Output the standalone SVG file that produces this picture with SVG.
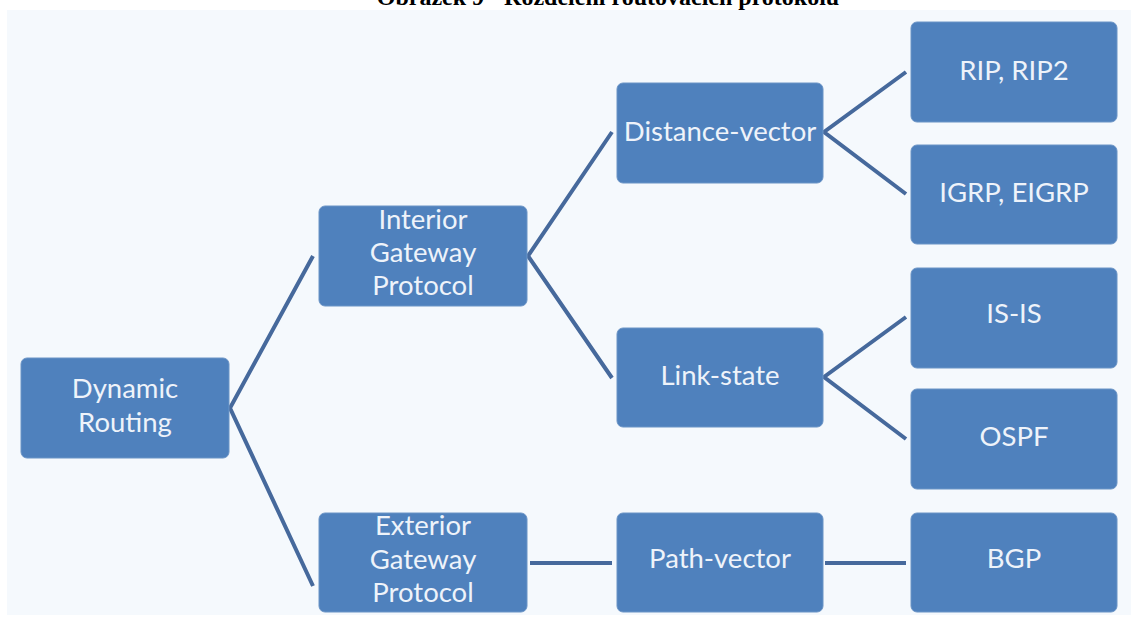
<svg xmlns="http://www.w3.org/2000/svg" width="1131" height="617" viewBox="0 0 1131 617">
<style>
.box{fill:#4f81bd;stroke:#6b94c6;stroke-width:1}
.t{font-family:Lato,"Open Sans",sans-serif;font-size:27.5px;fill:#eef3fa;text-anchor:middle}
.c{stroke:#46699c;stroke-width:4;fill:none;stroke-linejoin:miter}
.title{font-family:"Liberation Serif",serif;font-weight:bold;font-size:24px;fill:#000;text-anchor:middle}
</style>
<rect x="0" y="0" width="1131" height="617" fill="#ffffff"/>
<rect x="7" y="10" width="1124" height="605" fill="#f5f9fd"/>
<text class="title" x="608" y="5">Obrázek 9 - Rozdělení routovacích protokolů</text>
<g id="connectors">
<polyline class="c" points="313,256 230,408 313,586"/>
<polyline class="c" points="612,132 528,256 612,378"/>
<polyline class="c" points="906,72 824,132 906,194"/>
<polyline class="c" points="906,317 824,377 906,439"/>
<line class="c" x1="530" y1="563" x2="612" y2="563"/>
<line class="c" x1="825" y1="563" x2="906" y2="563"/>
</g>
<g id="dynamic-routing"><rect class="box" x="21" y="358" width="208" height="100" rx="6"/><text class="t" x="125" y="398">Dynamic</text><text class="t" x="125" y="432">Routing</text></g>
<g id="igp"><rect class="box" x="319" y="206" width="208" height="100" rx="6"/><text class="t" x="423" y="229">Interior</text><text class="t" x="423" y="262">Gateway</text><text class="t" x="423" y="295">Protocol</text></g>
<g id="egp"><rect class="box" x="319" y="513" width="208" height="99" rx="6"/><text class="t" x="423" y="535">Exterior</text><text class="t" x="423" y="569">Gateway</text><text class="t" x="423" y="602">Protocol</text></g>
<g id="distance-vector"><rect class="box" x="617" y="83" width="206" height="100" rx="6"/><text class="t" x="720" y="141">Distance-vector</text></g>
<g id="link-state"><rect class="box" x="617" y="328" width="206" height="99" rx="6"/><text class="t" x="720" y="385">Link-state</text></g>
<g id="path-vector"><rect class="box" x="617" y="513" width="206" height="99" rx="6"/><text class="t" x="720" y="568">Path-vector</text></g>
<g id="rip"><rect class="box" x="911" y="22" width="206" height="100" rx="6"/><text class="t" x="1014" y="80">RIP, RIP2</text></g>
<g id="igrp"><rect class="box" x="911" y="145" width="206" height="99" rx="6"/><text class="t" x="1014" y="202">IGRP, EIGRP</text></g>
<g id="isis"><rect class="box" x="911" y="268" width="206" height="100" rx="6"/><text class="t" x="1014" y="323">IS-IS</text></g>
<g id="ospf"><rect class="box" x="911" y="389" width="206" height="100" rx="6"/><text class="t" x="1014" y="446">OSPF</text></g>
<g id="bgp"><rect class="box" x="911" y="513" width="206" height="99" rx="6"/><text class="t" x="1014" y="568">BGP</text></g>
</svg>
